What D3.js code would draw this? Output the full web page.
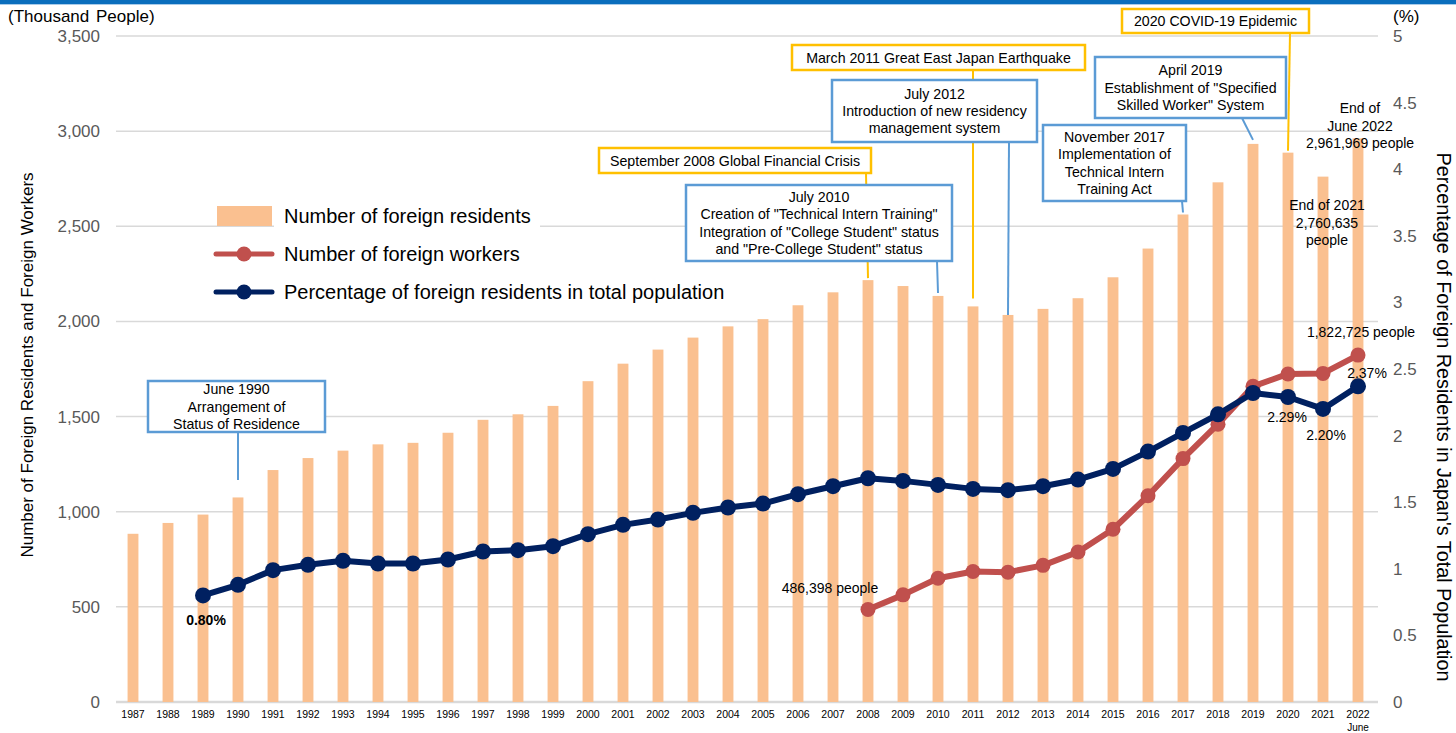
<!DOCTYPE html>
<html>
<head>
<meta charset="utf-8">
<script src="https://cdn.jsdelivr.net/npm/d3@7"></script>
<style>
  html, body { margin: 0; padding: 0; background: #fff; }
  svg { display: block; font-family: "Liberation Sans", Arial, sans-serif; }
</style>
</head>
<body>
<svg id="chart" width="1456" height="733"></svg>
<script>
// ---------------- DATA ----------------
const years = ["1987","1988","1989","1990","1991","1992","1993","1994","1995","1996","1997","1998","1999","2000","2001","2002","2003","2004","2005","2006","2007","2008","2009","2010","2011","2012","2013","2014","2015","2016","2017","2018","2019","2020","2021","2022"];
// Number of foreign residents (thousand people)
const residents = [884, 941, 985, 1075, 1219, 1282, 1321, 1354, 1362, 1415, 1483, 1512, 1556, 1686, 1778, 1852, 1915, 1974, 2012, 2085, 2153, 2217, 2186, 2134, 2079, 2034, 2066, 2122, 2232, 2383, 2562, 2731, 2933, 2887, 2761, 2962];
// Number of foreign workers (thousand people)
const workerYears = ["2008","2009","2010","2011","2012","2013","2014","2015","2016","2017","2018","2019","2020","2021","2022"];
const workers = [486, 563, 650, 686, 682, 718, 788, 908, 1084, 1279, 1460, 1659, 1724, 1727, 1823];
// Percentage of foreign residents in total population (%)
const pctYears = ["1989","1990","1991","1992","1993","1994","1995","1996","1997","1998","1999","2000","2001","2002","2003","2004","2005","2006","2007","2008","2009","2010","2011","2012","2013","2014","2015","2016","2017","2018","2019","2020","2021","2022"];
const pct = [0.80, 0.88, 0.99, 1.03, 1.06, 1.04, 1.04, 1.07, 1.13, 1.14, 1.17, 1.26, 1.33, 1.37, 1.42, 1.46, 1.49, 1.56, 1.62, 1.68, 1.66, 1.63, 1.60, 1.59, 1.62, 1.67, 1.75, 1.88, 2.02, 2.16, 2.32, 2.29, 2.20, 2.37];
const leftTicks = [0, 500, 1000, 1500, 2000, 2500, 3000, 3500];
const rightTicks = [0, 0.5, 1, 1.5, 2, 2.5, 3, 3.5, 4, 4.5, 5];
const legendLabels = ["Number of foreign residents", "Number of foreign workers", "Percentage of foreign residents in total population"];

// ---------------- LAYOUT ----------------
const svg = d3.select("#chart");
const plotL = 116, plotR = 1378, plotT = 36, plotB = 702;
const C = { bar: "#fac090", red: "#c0504d", navy: "#002060", grid: "#d9d9d9", tick: "#595959", blue: "#5b9bd5", yellow: "#ffc000" };
const FONT = "Liberation Sans, Arial, sans-serif";

const x = d3.scaleBand().domain(years).range([115.5, 1375.5]).paddingInner(0.69).paddingOuter(0.345);
const xc = d => x(d) + x.bandwidth() / 2;
const yL = d3.scaleLinear().domain([0, 3500]).range([plotB, plotT]);
const yR = d3.scaleLinear().domain([0, 5]).range([plotB, plotT]);

// top band
svg.append("rect").attr("x", 0).attr("y", 0).attr("width", 1456).attr("height", 4).attr("fill", "#0a6ebd");
svg.append("rect").attr("x", 0).attr("y", 4).attr("width", 1456).attr("height", 1).attr("fill", "#a9cbe9");

// gridlines
svg.append("g").selectAll("line").data(leftTicks.slice(1)).join("line")
  .attr("x1", plotL).attr("x2", plotR)
  .attr("y1", d => yL(d)).attr("y2", d => yL(d))
  .attr("stroke", C.grid).attr("stroke-width", 1.5);
// bottom axis line
svg.append("line").attr("x1", plotL).attr("x2", plotR).attr("y1", plotB).attr("y2", plotB)
  .attr("stroke", C.grid).attr("stroke-width", 2.5);

// left axis
const gl = svg.append("g").attr("transform", `translate(${plotL},0)`)
  .call(d3.axisLeft(yL).tickValues(leftTicks).tickFormat(d3.format(",")).tickSize(0).tickPadding(16));
gl.select(".domain").remove();
gl.selectAll("text").attr("fill", C.tick).attr("font-size", 17).attr("font-family", FONT);

// right axis
const gr = svg.append("g").attr("transform", `translate(${plotR},0)`)
  .call(d3.axisRight(yR).tickValues(rightTicks).tickFormat(d => String(d)).tickSize(0).tickPadding(15));
gr.select(".domain").remove();
gr.selectAll("text").attr("fill", C.tick).attr("font-size", 17).attr("font-family", FONT);

// bottom axis labels
const gx = svg.append("g").attr("transform", `translate(0,${plotB})`)
  .call(d3.axisBottom(x).tickSize(0).tickPadding(9));
gx.select(".domain").remove();
gx.selectAll("text").attr("fill", "#000").attr("font-size", 10.5).attr("font-family", FONT);
svg.append("text").attr("x", xc("2022")).attr("y", 731).attr("text-anchor", "middle")
  .attr("font-size", 10).text("June");

// axis titles / units
svg.append("text").attr("x", 8).attr("y", 22).attr("font-size", 17).attr("word-spacing", 2).text("(Thousand People)");
svg.append("text").attr("x", 1393).attr("y", 22).attr("font-size", 17).text("(%)");
svg.append("text").attr("transform", "translate(33,365) rotate(-90)").attr("text-anchor", "middle")
  .attr("font-size", 17).text("Number of Foreign Residents and Foreign Workers");
svg.append("text").attr("transform", "translate(1437,417) rotate(90)").attr("text-anchor", "middle")
  .attr("font-size", 19.8).text("Percentage of Foreign Residents in Japan's Total Population");

// bars
svg.append("g").selectAll("rect").data(years).join("rect")
  .attr("x", d => x(d)).attr("width", x.bandwidth())
  .attr("y", (d, i) => yL(residents[i])).attr("height", (d, i) => plotB - yL(residents[i]))
  .attr("fill", C.bar);

// ---------------- ANNOTATIONS ----------------
const annotations = [
  { lines: ["June 1990", "Arrangement of", "Status of Residence"], color: C.blue, box: [148, 381, 177, 51], from: [238, 432], year: "1990", endY: 480 },
  { lines: ["September 2008 Global Financial Crisis"], color: C.yellow, box: [599, 148, 272, 25], from: [866, 173], year: "2008" },
  { lines: ["March 2011 Great East Japan Earthquake"], color: C.yellow, box: [792, 45, 293, 25], from: [973, 70], year: "2011", gap: 8 },
  { lines: ["2020 COVID-19 Epidemic"], color: C.yellow, box: [1122, 9, 187, 24], from: [1290, 33], year: "2020", gap: 2 },
  { lines: ["July 2010", "Creation of \"Technical Intern Training\"", "Integration of \"College Student\" status", "and \"Pre-College Student\" status"], color: C.blue, box: [686, 185, 266, 76], from: [937, 261], year: "2010", gap: 3 },
  { lines: ["July 2012", "Introduction of new residency", "management system"], color: C.blue, box: [832, 80, 205, 62], from: [1009, 142], year: "2012", gap: 0 },
  { lines: ["November 2017", "Implementation of", "Technical Intern", "Training Act"], color: C.blue, box: [1043, 125, 143, 76], from: [1182, 201], year: "2017", gap: 2 },
  { lines: ["April 2019", "Establishment of \"Specified", "Skilled Worker\" System"], color: C.blue, box: [1095, 57, 191, 61], from: [1242, 118], year: "2019", gap: 4 }
];
const gA = svg.append("g");
// leader lines first
annotations.forEach(a => {
  const i = years.indexOf(a.year);
  const ex = xc(a.year);
  const ey = a.endY !== undefined ? a.endY : yL(residents[i]) - (a.gap !== undefined ? a.gap : 2);
  gA.append("line").attr("x1", a.from[0]).attr("y1", a.from[1]).attr("x2", ex).attr("y2", ey)
    .attr("stroke", a.color).attr("stroke-width", 2);
});
annotations.forEach(a => {
  const [bx, by, bw, bh] = a.box;
  gA.append("rect").attr("x", bx).attr("y", by).attr("width", bw).attr("height", bh)
    .attr("fill", "#fff").attr("stroke", a.color).attr("stroke-width", 2.5);
  const lh = 17.2;
  const n = a.lines.length;
  const cy = by + bh / 2;
  const t = gA.append("text").attr("text-anchor", "middle").attr("font-size", 14.2).attr("fill", "#000");
  a.lines.forEach((l, k) => {
    const yy = cy + (k - (n - 1) / 2) * lh + 5;
    t.append("tspan").attr("x", bx + bw / 2).attr("y", yy).text(l);
  });
});

// ---------------- LINES ----------------
const lineRed = d3.line().x(d => xc(d[0])).y(d => yL(d[1]));
const redData = workerYears.map((d, i) => [d, workers[i]]);
svg.append("path").datum(redData).attr("d", lineRed).attr("fill", "none")
  .attr("stroke", C.red).attr("stroke-width", 6).attr("stroke-linejoin", "round");
svg.append("g").selectAll("circle").data(redData).join("circle")
  .attr("cx", d => xc(d[0])).attr("cy", d => yL(d[1])).attr("r", 7.5).attr("fill", C.red);

const lineNavy = d3.line().x(d => xc(d[0])).y(d => yR(d[1]));
const navyData = pctYears.map((d, i) => [d, pct[i]]);
svg.append("path").datum(navyData).attr("d", lineNavy).attr("fill", "none")
  .attr("stroke", C.navy).attr("stroke-width", 6).attr("stroke-linejoin", "round");
svg.append("g").selectAll("circle").data(navyData).join("circle")
  .attr("cx", d => xc(d[0])).attr("cy", d => yR(d[1])).attr("r", 8).attr("fill", C.navy);

// ---------------- DATA LABELS ----------------
const labels = [
  { lines: ["End of", "June 2022", "2,961,969 people"], x: 1360, y: 113 },
  { lines: ["End of 2021", "2,760,635", "people"], x: 1327, y: 210 },
  { lines: ["1,822,725 people"], x: 1361, y: 337 },
  { lines: ["2.37%"], x: 1367, y: 378 },
  { lines: ["2.29%"], x: 1287, y: 422 },
  { lines: ["2.20%"], x: 1326, y: 440 },
  { lines: ["486,398 people"], x: 830, y: 593 },
  { lines: ["0.80%"], x: 206, y: 625, bold: true }
];
labels.forEach(l => {
  const t = svg.append("text").attr("text-anchor", "middle").attr("font-size", 14).attr("fill", "#000")
    .attr("font-weight", l.bold ? "bold" : "normal");
  l.lines.forEach((s, k) => t.append("tspan").attr("x", l.x).attr("y", l.y + k * 17.5).text(s));
});

// ---------------- LEGEND ----------------
const lg = svg.append("g");
lg.append("rect").attr("x", 274).attr("y", 202).attr("width", 266).attr("height", 30).attr("fill", "#fff");
lg.append("rect").attr("x", 217).attr("y", 206).attr("width", 55).attr("height", 20).attr("fill", C.bar);
const legY = [216, 254, 292];
[C.red, C.navy].forEach((c, k) => {
  const yy = legY[k + 1];
  lg.append("line").attr("x1", 216).attr("x2", 272).attr("y1", yy).attr("y2", yy)
    .attr("stroke", c).attr("stroke-width", 5).attr("stroke-linecap", "round");
  lg.append("circle").attr("cx", 244).attr("cy", yy).attr("r", 7.5).attr("fill", c);
});
legendLabels.forEach((s, k) => {
  lg.append("text").attr("x", 284).attr("y", legY[k] + 7).attr("font-size", 20).attr("fill", "#000").text(s);
});
</script>
</body>
</html>
